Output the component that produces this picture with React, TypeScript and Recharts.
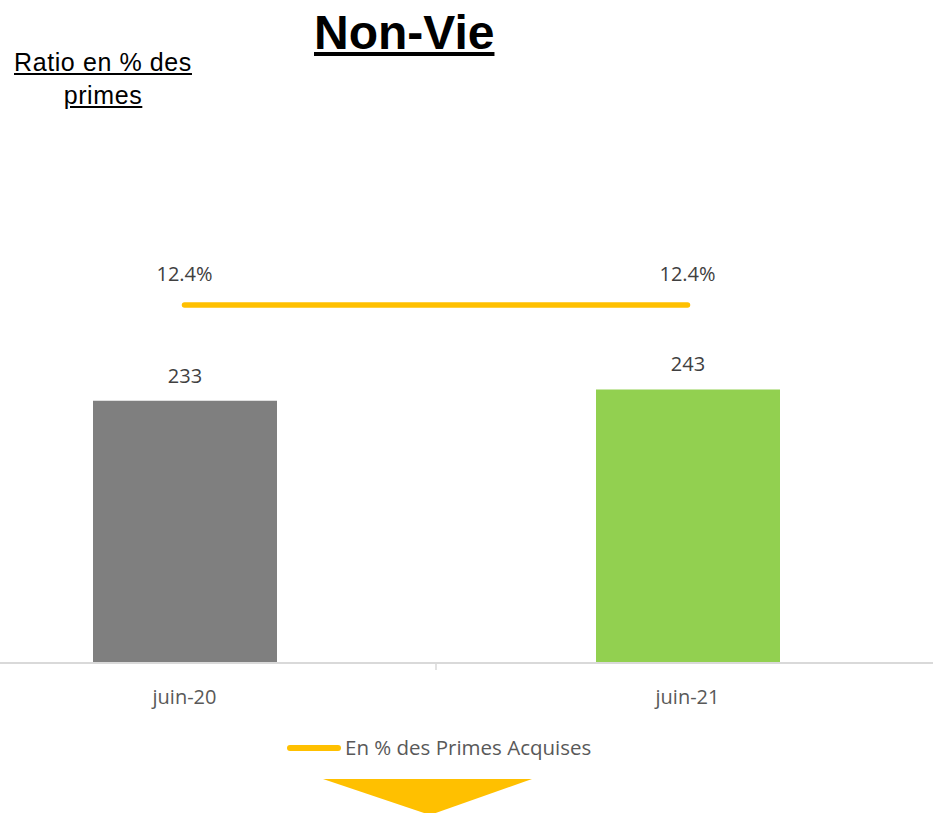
import {
  Bar,
  Cell,
  ComposedChart,
  LabelList,
  Line,
  XAxis,
  YAxis,
} from 'recharts';

// Non-Vie: amount per period (bars, left scale) and ratio in % of earned
// premiums (yellow line, right scale).

const periods = ['juin-20', 'juin-21'];
const amounts = [233, 243];
const ratios = [12.4, 12.4];
const barColors = ['#7f7f7f', '#92d050'];

const data = periods.map((p, i) => ({ period: p, amount: amounts[i], ratio: ratios[i] }));

const FONT = '"Open Sans", sans-serif';
const YELLOW = '#ffc000';

// tick label plus the small mark Excel puts between the two categories
function Tick(props: any) {
  const { x, y, payload, index } = props;
  return (
    <g>
      <text x={x} y={y} dy={14} textAnchor="middle" fill="#595959" fontSize={20} fontFamily={FONT}>
        {payload.value}
      </text>
      {index === 0 && payload.offset ? (
        <line x1={x + payload.offset} x2={x + payload.offset} y1={663} y2={670} stroke="#d9d9d9" strokeWidth={1.5} />
      ) : null}
    </g>
  );
}

export default function App() {
  return (
    <div
      style={{
        position: 'absolute',
        left: 0,
        top: 0,
        width: 933,
        height: 813,
        overflow: 'hidden',
        background: '#fff',
      }}
    >
      <div
        style={{
          position: 'absolute',
          left: 314,
          top: 9,
          fontFamily: '"Liberation Sans", Arial, sans-serif',
          fontWeight: 'bold',
          fontSize: 48,
          lineHeight: '48px',
          textDecoration: 'underline',
          color: '#000',
        }}
      >
        Non-Vie
      </div>
      <div
        style={{
          position: 'absolute',
          left: 0,
          top: 46,
          width: 206,
          textAlign: 'center',
          fontFamily: '"Liberation Sans", Arial, sans-serif',
          fontSize: 25,
          lineHeight: '33px',
          letterSpacing: 0.6,
          textDecoration: 'underline',
          color: '#000',
        }}
      >
        Ratio en % des
        <br />
        primes
      </div>

      <div style={{ position: 'absolute', left: -67, top: 0 }}>
        <ComposedChart width={1006} height={813} data={data} margin={{ top: 100, right: 0, bottom: 120, left: 0 }}>
          <XAxis
            dataKey="period"
            height={30}
            axisLine={{ stroke: '#d9d9d9', strokeWidth: 2 }}
            tickLine={false}
            tickMargin={21}
            tick={<Tick />}
            interval={0}
          />
          <YAxis yAxisId="left" hide domain={[0, 500]} />
          <YAxis yAxisId="right" orientation="right" hide domain={[0, 19.5]} />
          <Bar yAxisId="left" dataKey="amount" barSize={184} isAnimationActive={false}>
            {data.map((d, i) => (
              <Cell key={d.period} fill={barColors[i]} />
            ))}
            <LabelList
              dataKey="amount"
              position="top"
              offset={18}
              fill="#404040"
              fontSize={20}
              fontFamily={FONT}
            />
          </Bar>
          <Line
            yAxisId="right"
            dataKey="ratio"
            stroke={YELLOW}
            strokeWidth={5.5}
            strokeLinecap="round"
            dot={false}
            activeDot={false}
            isAnimationActive={false}
          >
            <LabelList
              dataKey="ratio"
              position="top"
              offset={24}
              fill="#404040"
              fontSize={20}
              fontFamily={FONT}
              formatter={(v: any) => `${Number(v).toFixed(1)}%`}
            />
          </Line>
        </ComposedChart>
      </div>

      {/* legend */}
      <div
        style={{
          position: 'absolute',
          left: 287,
          top: 745,
          width: 54,
          height: 6,
          borderRadius: 3,
          background: YELLOW,
        }}
      />
      <div
        style={{
          position: 'absolute',
          left: 345,
          top: 737,
          fontFamily: FONT,
          fontSize: 20.5,
          lineHeight: '20px',
          color: '#595959',
          whiteSpace: 'nowrap',
        }}
      >
        En % des Primes Acquises
      </div>

      {/* down arrow under the legend */}
      <svg style={{ position: 'absolute', left: 0, top: 0 }} width={933} height={813}>
        <polygon points="323,779 532,779 430,815" fill={YELLOW} />
      </svg>
    </div>
  );
}
